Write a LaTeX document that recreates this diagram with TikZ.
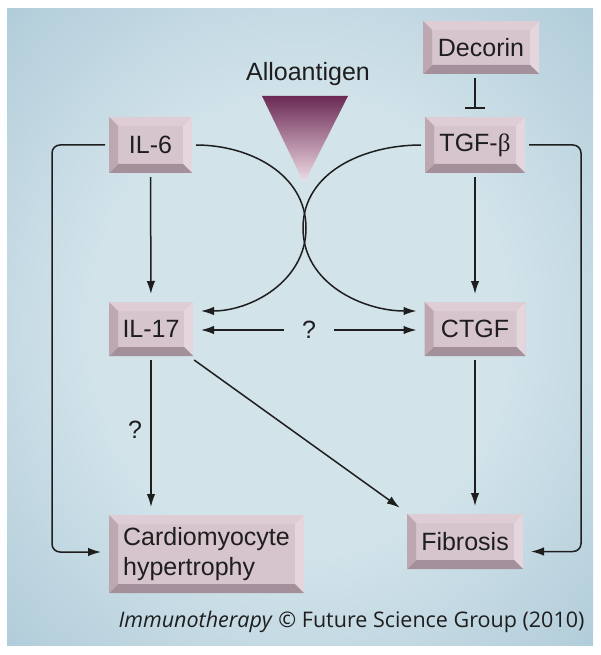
\documentclass[tikz,border=0pt]{standalone}
\usepackage{fontspec}
\setmainfont{Liberation Sans}
\newfontfamily\betafont{Liberation Serif}
\newfontfamily\capfont{Open Sans}
\usepackage{tikz}
\usetikzlibrary{arrows.meta,calc,positioning}
\definecolor{bgin}{HTML}{D2E3EA}
\definecolor{bgmid}{HTML}{96BACC}
\definecolor{bgout}{HTML}{7DA6BC}
\definecolor{face}{HTML}{D7C5CE}
\definecolor{bevtop}{HTML}{DFCDD6}
\definecolor{bevleft}{HTML}{BDA8B2}
\definecolor{bevbot}{HTML}{A4909A}
\definecolor{bevright}{HTML}{E5D5DC}
\definecolor{tridark}{HTML}{6B2A55}
\definecolor{trilight}{HTML}{F2DFE7}
\definecolor{ink}{HTML}{1E1E1E}
\pgfdeclareradialshading{panel}{\pgfpoint{0bp}{0bp}}{color(0bp)=(bgin); color(18bp)=(bgin); color(50bp)=(bgmid); color(71bp)=(bgout)}
\tikzstyle{arr}=[-{Latex[length=13pt,width=8.5pt]}, line width=1.5pt, draw=ink, shorten >=4pt]

\begin{document}
\begin{tikzpicture}[x=1pt,y=-1pt,
  every node/.style={font=\fontsize{25}{30}\selectfont, text=ink},
  box/.style 2 args={minimum width=#1, minimum height=#2, inner sep=0pt, outer sep=4pt, fill=face,
    path picture={
      \coordinate (nw) at (path picture bounding box.north west);
      \coordinate (ne) at (path picture bounding box.north east);
      \coordinate (sw) at (path picture bounding box.south west);
      \coordinate (se) at (path picture bounding box.south east);
      \fill[bevtop] (nw) -- (ne) -- ([shift={(-9pt,-9pt)}]ne) -- ([shift={(9pt,-9pt)}]nw) -- cycle;
      \fill[bevright] (ne) -- (se) -- ([shift={(-9pt,9pt)}]se) -- ([shift={(-9pt,-9pt)}]ne) -- cycle;
      \fill[bevbot] (se) -- (sw) -- ([shift={(9pt,9pt)}]sw) -- ([shift={(-9pt,9pt)}]se) -- cycle;
      \fill[bevleft] (sw) -- (nw) -- ([shift={(9pt,-9pt)}]nw) -- ([shift={(9pt,9pt)}]sw) -- cycle;
    }}]
\useasboundingbox (0,0) rectangle (600,655);
\shade[shading=panel] (7,9) rectangle (593,645);

\node (dec) at (481,47.5)[box={116pt}{53pt}] {Decorin};
\node (tgf) at (475,145)[box={100pt}{56pt}] {TGF-{\betafont β}};
\node (il6) at (150.5,145)[box={83pt}{56pt}] {IL-6};
\node (il17) at (151,329)[box={84pt}{54pt}] {IL-17};
\node (ctgf) at (475,329)[box={101pt}{54pt}] {CTGF};
\node (cm) at (206.5,554)[box={195pt}{78pt},align=left] {Cardiomyocyte\\hypertrophy};
\node (fib) at (465,541.5)[box={116pt}{55pt}] {Fibrosis};
\node (ag) at (308,74) {Alloantigen};
\node (q1) at (309,330)[minimum width=50pt] {?};
\node (q2) at (135,430) {?};
\node (cap) at (588,627)[anchor=base east,font=\capfont\fontsize{21.5}{25}\selectfont] {\textit{Immunotherapy} © Future Science Group (2010)};

\shade[top color=tridark,bottom color=trilight] (262,96) -- (348,96) -- (304,183) -- cycle;

\coordinate (k1) at (306,228);
\coordinate (k2) at (303,228);
\draw[arr] (il6.east) to[out=0,in=90] (k1) to[out=-90,in=0] ([yshift=18pt]il17.east);
\draw[arr] (tgf.west) to[out=180,in=90] (k2) to[out=-90,in=180] ([yshift=18pt]ctgf.west);
\draw[arr] (q1.west) -- (q1.west -| il17.east);
\draw[arr] (q1.east) -- (q1.east -| ctgf.west);
\draw[arr] (il6) -- (il17);
\draw[arr] (tgf) -- (ctgf);
\draw[arr] (il17) -- (il17 |- cm.north);
\draw[arr] (il17) -- (fib.north west);
\draw[arr] (ctgf) -- (ctgf |- fib.north);
\draw[arr, rounded corners=8pt] (il6.west) -| ([xshift=-53pt,yshift=2pt]cm.west) -- ([yshift=2pt]cm.west);
\draw[arr, rounded corners=8pt] (tgf.east) -| ([xshift=54pt,yshift=-10pt]fib.east) -- ([yshift=-10pt]fib.east);
\draw[line width=1.5pt, draw=ink, -{Bar[width=20pt]}, shorten >=4pt] (dec.south -| tgf) -- (tgf);
\end{tikzpicture}
\end{document}
